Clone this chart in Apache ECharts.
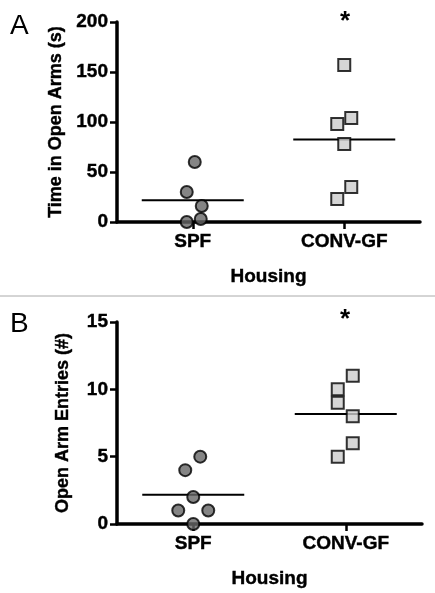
<!DOCTYPE html>
<html>
<head>
<meta charset="utf-8">
<script src="https://cdn.jsdelivr.net/npm/echarts@6/dist/echarts.min.js"></script>
<style>
html,body{margin:0;padding:0;background:#fff;}
#main{width:435px;height:593px;}
</style>
</head>
<body>
<div id="main"></div>
<script>
var categories = ['SPF', 'CONV-GF'];
var xAxisTitle = 'Housing';

// Panel A: Time in Open Arms (s)
var timeTitle = 'Time in Open Arms (s)';
var timeSPF = [60, 30, 16, 3, 0];
var timeCONV = [157, 104, 98, 78, 35, 23];
var timeTicks = [0, 50, 100, 150, 200];

// Panel B: Open Arm Entries (#)
var entriesTitle = 'Open Arm Entries (#)';
var entriesSPF = [5, 4, 2, 1, 1, 0];
var entriesCONV = [11, 10, 9, 8, 6, 5];
var entriesTicks = [0, 5, 10, 15];

// jitter (pixel offsets, style only)
var jitA_SPF = [2, -6, 9, 8, -6];
var jitA_CONV = [0, 7, -7, 0, 7, -7];
var jitB_SPF = [7, -8, 0, -15, 15, 0];
var jitB_CONV = [7, -8, -8, 7, 7, -8];

function mean(a){ var s=0; for (var i=0;i<a.length;i++) s+=a[i]; return s/a.length; }

var FONT = 'Liberation Sans, Arial, sans-serif';
var heavy = {textBorderColor:'#000', textBorderWidth:0.4};

function pts(cat, vals, jit){
  return vals.map(function(v,i){ return {value:[cat, v], symbolOffset:[jit[i],0]}; });
}

function meanSeries(idx, cat, vals){
  return {
    type:'custom', xAxisIndex:idx, yAxisIndex:idx, z:1,
    data:[[cat, mean(vals)]],
    renderItem:function(params, api){
      var p = api.coord([api.value(0), api.value(1)]);
      return {type:'line', shape:{x1:p[0]-51, y1:p[1], x2:p[0]+51, y2:p[1]},
        style:{stroke:'#000', lineWidth:2}};
    }
  };
}

function yAxis(idx, title, ticks, gap){
  return {
    type:'value', gridIndex:idx, min:ticks[0], max:ticks[ticks.length-1],
    interval:ticks[1]-ticks[0],
    name:title, nameLocation:'middle', nameGap:gap,
    nameTextStyle:Object.assign({fontFamily:FONT, fontWeight:'bold', fontSize:18, color:'#000'}, heavy),
    axisLine:{show:true, lineStyle:{color:'#000', width:3.5}},
    axisTick:{show:true, length:7, lineStyle:{color:'#000', width:2.5}},
    axisLabel:Object.assign({fontFamily:FONT, fontWeight:'bold', fontSize:19, color:'#000', margin:9}, heavy),
    splitLine:{show:false}
  };
}
function xAxis(idx){
  return {
    type:'category', gridIndex:idx, data:categories, boundaryGap:true,
    name:xAxisTitle, nameLocation:'middle', nameGap:45,
    nameTextStyle:Object.assign({fontFamily:FONT, fontWeight:'bold', fontSize:19, color:'#000'}, heavy),
    axisLine:{show:true, lineStyle:{color:'#000', width:3.5}},
    axisTick:{show:true, alignWithLabel:true, length:7, lineStyle:{color:'#000', width:2.5}},
    axisLabel:Object.assign({fontFamily:FONT, fontWeight:'bold', fontSize:19, color:'#000', margin:10}, heavy),
    splitLine:{show:false}
  };
}

var circleStyle = {color:'#666', borderColor:'#000', borderWidth:2};
var squareStyle = {color:'#ccc', borderColor:'#000', borderWidth:2};

var chart = echarts.init(document.getElementById('main'), null, {renderer:'canvas'});
chart.setOption({
  animation:false,
  backgroundColor:'#fff',
  grid:[
    {left:117, right:15, top:22, height:200},
    {left:117, right:13, top:322, height:202}
  ],
  xAxis:[xAxis(0), xAxis(1)],
  yAxis:[yAxis(0, timeTitle, timeTicks, 52), yAxis(1, entriesTitle, entriesTicks, 45)],
  series:[
    meanSeries(0, 'SPF', timeSPF),
    meanSeries(0, 'CONV-GF', timeCONV),
    meanSeries(1, 'SPF', entriesSPF),
    meanSeries(1, 'CONV-GF', entriesCONV),
    {type:'scatter', xAxisIndex:0, yAxisIndex:0, symbol:'circle', symbolSize:12, itemStyle:circleStyle, z:3, data:pts('SPF', timeSPF, jitA_SPF)},
    {type:'scatter', xAxisIndex:0, yAxisIndex:0, symbol:'rect', symbolSize:12, itemStyle:squareStyle, z:3, data:pts('CONV-GF', timeCONV, jitA_CONV)},
    {type:'scatter', xAxisIndex:1, yAxisIndex:1, symbol:'circle', symbolSize:12, itemStyle:circleStyle, z:3, data:pts('SPF', entriesSPF, jitB_SPF)},
    {type:'scatter', xAxisIndex:1, yAxisIndex:1, symbol:'rect', symbolSize:12, itemStyle:squareStyle, z:3, data:pts('CONV-GF', entriesCONV, jitB_CONV)}
  ],
  graphic:[
    {type:'line', shape:{x1:0, y1:296, x2:435, y2:296}, style:{stroke:'#aaa', lineWidth:1}},
    {type:'text', left:10, top:12, style:{text:'A', font:'28px ' + FONT, fill:'#000'}},
    {type:'text', left:10, top:310, style:{text:'B', font:'28px ' + FONT, fill:'#000'}},
    {type:'text', x:345, y:22, style:{text:'*', font:'bold 26px ' + FONT, fill:'#000', textAlign:'center', textVerticalAlign:'middle'}},
    {type:'text', x:345, y:320, style:{text:'*', font:'bold 26px ' + FONT, fill:'#000', textAlign:'center', textVerticalAlign:'middle'}}
  ]
});
</script>
</body>
</html>
